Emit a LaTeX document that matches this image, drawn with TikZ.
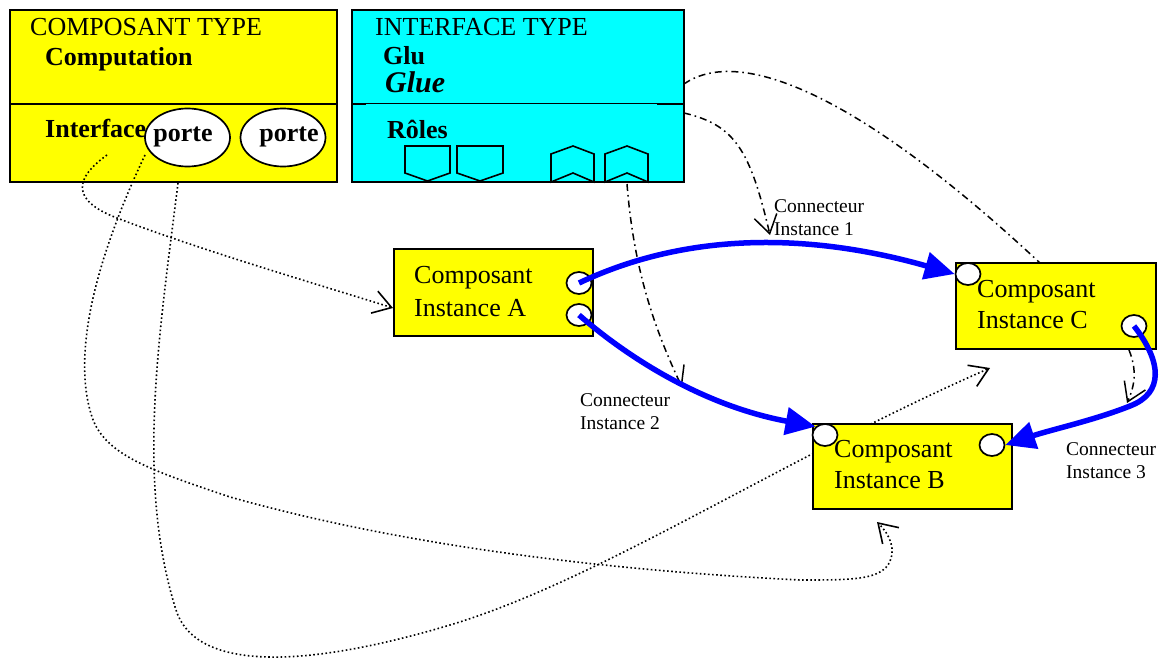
\documentclass[tikz,border=0pt]{standalone}
\usepackage{fontspec}
\setmainfont{Liberation Serif}
\usetikzlibrary{arrows.meta,shapes.geometric}
\definecolor{ylw}{RGB}{255,255,0}
\definecolor{cyn}{RGB}{0,255,255}
\definecolor{blu}{RGB}{0,0,255}
\begin{document}
\begin{tikzpicture}[x=1pt,y=-1pt,
  bigtxt/.style={font=\fontsize{26}{32}\selectfont, inner sep=0pt, anchor=base west},
  smalltxt/.style={font=\fontsize{19.5}{23}\selectfont, inner sep=0pt, anchor=base west},
  typebox/.style={draw=black, line width=2pt, inner sep=0pt},
  instbox/.style={draw=black, fill=ylw, line width=2pt, inner sep=0pt},
  port/.style={ellipse, draw=black, fill=white, line width=1.7pt, inner sep=0pt, minimum width=25pt, minimum height=22pt},
  porteell/.style={ellipse, draw=black, fill=white, line width=1.7pt, inner sep=0pt, minimum width=85pt, minimum height=58pt},
  role/.style={draw=black, line width=1.6pt, line join=miter},
  bluearr/.style={draw=blu, line width=5.5pt, -{Triangle[length=30pt,width=27pt]}},
  dashdot/.style={draw=black, line width=1.5pt, dash pattern=on 7pt off 4pt on 1.6pt off 4pt},
  dotline/.style={draw=black, line width=1.6pt, dash pattern=on 1.6pt off 2.5pt},
  barb/.style={-{Straight Barb[length=18pt,width=23pt]}}
]
\useasboundingbox (0,0) rectangle (1168,658);

% ---------- type boxes ----------
\node[typebox, fill=ylw, minimum width=327pt, minimum height=172pt] (CT) at (173.5,96) {};
\draw[line width=2pt] (10,104) -- (337,104);
\node[porteell] (P1) at (187.5,137.5) {};
\node[porteell] (P2) at (283,137.5) {};
\node[bigtxt] (ctTitle) at (30,36) {COMPOSANT TYPE};
\node[bigtxt, font=\fontsize{26}{32}\selectfont\bfseries] (ctName) at (45,66) {Computation};
\node[bigtxt, font=\fontsize{26}{32}\selectfont\bfseries] (ctIf) at (45,138) {Interface};
\node[bigtxt, anchor=base, font=\fontsize{26}{32}\selectfont\bfseries] (p1t) at (183,142) {porte};
\node[bigtxt, anchor=base, font=\fontsize{26}{32}\selectfont\bfseries] (p2t) at (289,142) {porte};

\node[typebox, fill=cyn, minimum width=332pt, minimum height=172pt] (IT) at (518,96) {};
\draw[line width=1pt] (352,103.5) -- (684,103.5);
\draw[line width=2pt] (352,104) -- (366,104);
\draw[line width=2pt] (657,104) -- (684,104);
\node[bigtxt] (itTitle) at (375,36) {INTERFACE TYPE};
\node[bigtxt, font=\fontsize{26}{32}\selectfont\bfseries] (itGlu) at (383,65) {Glu};
\node[bigtxt, font=\fontsize{30}{34}\selectfont\bfseries\itshape] (itGlue) at (385,93) {Glue};
\node[bigtxt, font=\fontsize{26}{32}\selectfont\bfseries] (itRoles) at (387,139) {Rôles};
\draw[role] (405,146) -- (450,146) -- (450,173) -- (427.5,181) -- (405,173) -- cycle;
\draw[role] (457,146) -- (503,146) -- (503,173) -- (480,181) -- (457,173) -- cycle;
\draw[role] (551,182) -- (551,154) -- (573,146) -- (594,154) -- (594,182) -- (573,173) -- cycle;
\draw[role] (605,182) -- (605,154) -- (627,146) -- (648,154) -- (648,182) -- (627,173) -- cycle;

% ---------- coordinates for connector ends ----------
\coordinate (d1s) at (107,155);
\coordinate (d2s) at (145,155);
\coordinate (d3s) at (178,183);
\coordinate (itE1) at (684,113);
\coordinate (itE2) at (684,84);
\coordinate (role4) at (627,184);
\coordinate (cBot) at (1129,350);

% ---------- dotted connectors ----------
\draw[dotline, barb] (d1s) .. controls (75,178) and (70,200) .. (117,218)
   .. controls (200,250) and (320,285) .. (393,308) coordinate (d1e);
\draw[dotline, barb] (d2s) .. controls (100,250) and (70,350) .. (92,417)
   .. controls (105,455) and (150,470) .. (230,497)
   .. controls (400,545) and (600,570) .. (800,580)
   .. controls (850,580) and (877,580) .. (888,565)
   .. controls (897,550) and (890,535) .. (877,522) coordinate (d2e);
\draw[dotline, barb] (d3s) .. controls (160,330) and (135,480) .. (176,610)
   .. controls (195,670) and (300,670) .. (450,625)
   .. controls (600,580) and (780,460) .. (990,368) coordinate (d3e);

% ---------- dash-dot connectors ----------
\draw[dashdot, barb] (itE1) .. controls (735,125) and (750,150) .. (770,235) coordinate (dd1e);
\draw[dashdot] (itE2) .. controls (740,45) and (860,95) .. (1040,263) coordinate (dd2e);
\draw[dashdot, barb] (role4) .. controls (633,260) and (650,320) .. (682,387) coordinate (dd3e);

% ---------- instance boxes ----------
\node[instbox, minimum width=199pt, minimum height=87pt] (A) at (493.5,292.5) {};
\node[instbox, minimum width=200pt, minimum height=86pt] (C) at (1056,306) {};
\node[instbox, minimum width=199pt, minimum height=85pt] (B) at (912.5,466.5) {};

\draw[dashdot, barb] (cBot) .. controls (1137,370) and (1135,385) .. (1127,403) coordinate (dd4e);

\node[port] (A1) at (579,283) {};
\node[port] (A2) at (579,315) {};
\node[port] (C1) at (968,274) {};
\node[port] (C2) at (1134,326) {};
\node[port] (B1) at (825,435) {};
\node[port] (B2) at (992,445) {};

\node[bigtxt] (At1) at (414,283) {Composant};
\node[bigtxt] (At2) at (414,316) {Instance A};
\node[bigtxt] (Ct1) at (977,297) {Composant};
\node[bigtxt] (Ct2) at (977,328) {Instance C};
\node[bigtxt] (Bt1) at (834,457) {Composant};
\node[bigtxt] (Bt2) at (834,488) {Instance B};

% ---------- blue connectors ----------
\draw[bluearr] (A1.center) .. controls (680,235) and (800,230) .. (C1.west);
\draw[bluearr] (A2.center) .. controls (625,355) and (700,405) .. (B1.north west);
\draw[bluearr] (C2.center) .. controls (1162,362) and (1164,393) .. (1130,406)
   .. controls (1095,420) and (1050,430) .. (B2.east);

% ---------- connector labels ----------
\node[smalltxt] (k1a) at (774,212) {Connecteur};
\node[smalltxt] (k1b) at (774,235) {Instance 1};
\node[smalltxt] (k2a) at (580,406) {Connecteur};
\node[smalltxt] (k2b) at (580,429) {Instance 2};
\node[smalltxt] (k3a) at (1066,455) {Connecteur};
\node[smalltxt] (k3b) at (1066,478) {Instance 3};
\end{tikzpicture}
\end{document}
